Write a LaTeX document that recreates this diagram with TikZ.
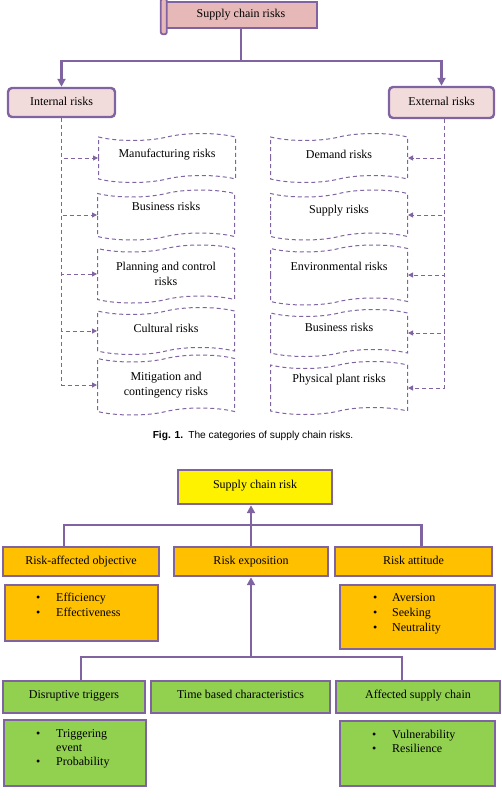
\documentclass[tikz,border=0pt]{standalone}
\usepackage{fontspec}
\setmainfont{Liberation Serif}
\newfontfamily\capfont{Liberation Sans}
\usepackage{tikz}
\usetikzlibrary{positioning,arrows.meta,shapes.symbols}

\definecolor{frame}{HTML}{8064A2}
\definecolor{rosy}{HTML}{E6B9B8}
\definecolor{palerosy}{HTML}{F2DCDB}
\definecolor{amber}{HTML}{FFC000}
\definecolor{leaf}{HTML}{92D050}

\begin{document}
\begin{tikzpicture}[%
		x=1pt,y=-1pt,
		font=\fontsize{12}{15}\selectfont,
		conn/.style={draw=frame, line width=2.4pt},
		dashlink/.style={draw=frame, line width=1pt, dash pattern=on 4pt off 3pt,
			-{Triangle[length=5pt,width=5pt]}},
		head/.style={%
			draw=frame,
			line width=2.4pt,
			inner sep=2pt,
			text height=8.5pt,
			text depth=3pt
		},
		sidebox/.style={%
			head,
			fill=palerosy,
			rounded corners=4pt
		},
		tapebox/.style={%
			shape=tape,
			draw=frame,
			line width=1pt,
			dash pattern=on 4pt off 3pt,
			tape bend height=7pt,
			minimum width=137pt,
			align=center
		},
		orange/.style={head, fill=amber, minimum height=29pt},
		green/.style={head, fill=leaf, minimum height=32pt, text depth=5pt},
		listtxt/.style={anchor=north west, inner sep=0pt}
		]
		\useasboundingbox (0,0) rectangle (501,803);

		% first figure
		\node[head, fill=rosy, minimum width=152pt, minimum height=26pt] (scr) at (241,15) {Supply chain risks};
		\draw[frame, line width=1.8pt, fill=rosy, rounded corners=2pt]
			([xshift=-3pt,yshift=2pt]scr.north west) rectangle ([xshift=3pt,yshift=-5pt]scr.south west);
		\node[sidebox, minimum width=107pt, minimum height=29pt] (int) at (61.5,102.5) {Internal risks};
		\node[sidebox, minimum width=105pt, minimum height=31pt] (ext) at (441.5,102.5) {External risks};

		\node[tapebox, minimum height=49pt, text depth=10pt] (mf)  at (167,158) {Manufacturing risks};
		\node[tapebox, minimum height=50pt, text depth=18pt] (bi)  at (166,215) {Business risks};
		\node[tapebox, minimum height=58pt] (pc)  at (166,274) {Planning and control\\risks};
		\node[tapebox, minimum height=47pt, text depth=6pt] (cu)  at (166,331) {Cultural risks};
		\node[tapebox, minimum height=60pt] (mc)  at (166,385) {Mitigation and\\contingency risks};

		\node[tapebox, minimum height=49pt, text depth=8pt] (dm)  at (339,158) {Demand risks};
		\node[tapebox, minimum height=50pt, text depth=12pt] (su)  at (339,215) {Supply risks};
		\node[tapebox, minimum height=60pt, text depth=18pt] (en)  at (339,275) {Environmental risks};
		\node[tapebox, minimum height=47pt, text depth=12pt] (be)  at (339,333) {Business risks};
		\node[tapebox, minimum height=53pt, text depth=20pt] (pp)  at (339,388) {Physical plant risks};

		\draw[conn, -{Triangle[length=8pt,width=8pt]}] (scr.south) -- ++(0,32) -| (int.north);
		\draw[conn, -{Triangle[length=8pt,width=8pt]}] (scr.south) -- ++(0,32) -| (ext.north);

		\path[dashlink] (int.south) |- (mf.west);
		\path[dashlink] (int.south) |- (bi.west);
		\path[dashlink] (int.south) |- (pc.west);
		\path[dashlink] (int.south) |- (cu.west);
		\path[dashlink] (int.south) |- (mc.west);
		\path[dashlink] ([xshift=3pt]ext.south) |- (dm.east);
		\path[dashlink] ([xshift=3pt]ext.south) |- (su.east);
		\path[dashlink] ([xshift=3pt]ext.south) |- (en.east);
		\path[dashlink] ([xshift=3pt]ext.south) |- (be.east);
		\path[dashlink] ([xshift=3pt]ext.south) |- (pp.east);

		\node[font=\capfont\fontsize{10.2}{12}\selectfont] (cap) at (253,436)
			{\textbf{Fig. 1.}\enspace The categories of supply chain risks.};

		% second figure
		\node[head, fill=yellow, minimum width=154pt, minimum height=34pt, text depth=5pt] (scr2) at (255,487) {Supply chain risk};

		\node[orange, minimum width=156pt] (rao)  at (81,561.5)  {Risk-affected objective};
		\node[orange, minimum width=154pt] (rexp) at (251,561.5) {Risk exposition};
		\node[orange, minimum width=157pt] (ratt) at (413.5,561.5) {Risk attitude};

		\node[head, fill=amber, minimum width=153pt, minimum height=56pt, anchor=north west] (eff) at (4,584) {};
		\node[head, fill=amber, minimum width=155pt, minimum height=64pt, anchor=north west] (att) at (339,584) {};
		\node[listtxt] (efft) at ([xshift=32pt,yshift=-7pt]eff.north west)
			{\begin{tabular}{@{}p{20pt}@{}l@{}}\textbullet & Efficiency\\ \textbullet & Effectiveness\end{tabular}};
		\node[listtxt] (attt) at ([xshift=34pt,yshift=-7pt]att.north west)
			{\begin{tabular}{@{}p{19pt}@{}l@{}}\textbullet & Aversion\\ \textbullet & Seeking\\ \textbullet & Neutrality\end{tabular}};

		\node[green, minimum width=142pt] (dis) at (74,697)    {Disruptive triggers};
		\node[green, minimum width=179pt] (tbc) at (240.5,697) {Time based characteristics};
		\node[green, minimum width=164pt] (aff) at (418,697)   {Affected supply chain};

		\node[head, fill=leaf, minimum width=142pt, minimum height=66pt, anchor=north west] (trg) at (3,719) {};
		\node[head, fill=leaf, minimum width=155pt, minimum height=65pt, anchor=north west] (vul) at (339,720) {};
		\node[listtxt] (trgt) at ([xshift=33pt,yshift=-8pt]trg.north west)
			{\fontsize{12}{14}\selectfont\begin{tabular}{@{}p{20pt}@{}l@{}}\textbullet & Triggering\\ & event\\ \textbullet & Probability\end{tabular}};
		\node[listtxt] (vult) at ([xshift=33pt,yshift=-8pt]vul.north west)
			{\fontsize{12}{14}\selectfont\begin{tabular}{@{}p{20pt}@{}l@{}}\textbullet & Vulnerability\\ \textbullet & Resilience\end{tabular}};

		\coordinate (j1) at (251,525);
		\coordinate (j2) at (251,657);
		\draw[conn, -{Triangle[length=8pt,width=8pt]}] (rexp.north) -- (rexp.north |- scr2.south);
		\draw[conn] ([xshift=-17pt]rao.north) |- (j1) -| ([xshift=8pt]ratt.north);
		\draw[conn, -{Triangle[length=8pt,width=8pt]}] (j2) -- (rexp.south);
		\draw[conn] ([xshift=7pt]dis.north) |- (j2) -| ([xshift=-16pt]aff.north);
		\end{tikzpicture}
\end{document}
